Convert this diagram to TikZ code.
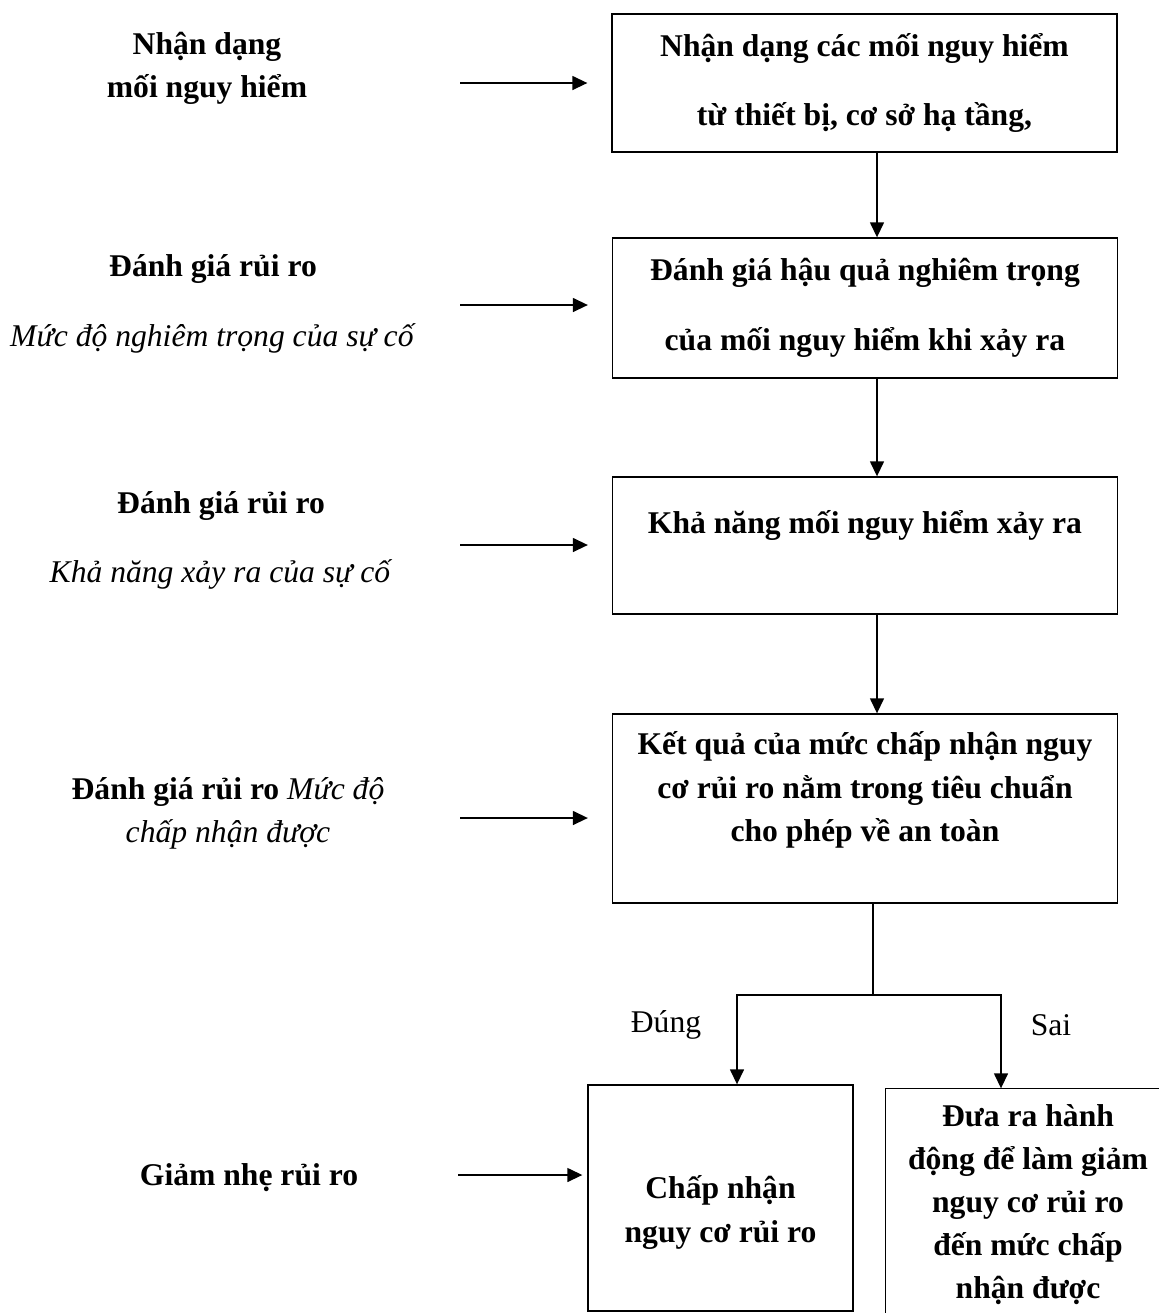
\documentclass[tikz,border=0pt]{standalone}
\usepackage{fontspec}
\setmainfont{Liberation Serif}
\usetikzlibrary{arrows.meta}
\tikzstyle{Box}=[draw,line width=0.8pt,inner sep=0pt,align=center,
font=\bfseries\fontsize{18}{24.5}\selectfont]
\tikzstyle{WideBox}=[Box,font=\bfseries\fontsize{18}{39.5}\selectfont]
\tikzstyle{Label}=[align=center,inner sep=0pt,font=\fontsize{18}{24.5}\selectfont]
\tikzstyle{BoldLabel}=[Label,font=\bfseries\fontsize{18}{24.5}\selectfont]
\tikzstyle{WideLabel}=[Label,font=\fontsize{18}{39.5}\selectfont]
\tikzstyle{Edge}=[line width=0.8pt]
\tikzstyle{Arrow}=[Edge,-{Triangle[length=0.3cm,width=0.28cm]}]

\begin{document}
\begin{tikzpicture}[x=0.02cm,y=-0.02cm]
        \useasboundingbox(0,0)rectangle(1159,1313);
        \clip(0,0)rectangle(1159,1313);
        % boxes
        \node[WideBox,minimum width=10.1cm,minimum height=2.76cm](box1)at(864.5,83){Nhận dạng các mối nguy hiểm\\từ thiết bị, cơ sở hạ tầng,};
        \node[WideBox,minimum width=10.1cm,minimum height=2.8cm](box2)at(865,308){Đánh giá hậu quả nghiêm trọng\\của mối nguy hiểm khi xảy ra};
        \node[Box,minimum width=10.1cm,minimum height=2.74cm,text depth=0.94cm](box3)at(865,545.5){Khả năng mối nguy hiểm xảy ra};
        \node[Box,minimum width=10.1cm,minimum height=3.78cm,text depth=0.88cm](box4)at(865,808.5){Kết quả của mức chấp nhận nguy\\cơ rủi ro nằm trong tiêu chuẩn\\cho phép về an toàn};
        \node[Box,minimum width=5.3cm,minimum height=4.52cm,text height=1.9cm,text depth=0.14cm](box5)at(720.5,1198){Chấp nhận\\nguy cơ rủi ro};
        % cut off by the right and bottom border
        \node[Box,draw=none,minimum width=5.68cm,minimum height=4.64cm](box6)at(1028,1205){Đưa ra hành\\động để làm giảm\\nguy cơ rủi ro\\đến mức chấp\\nhận được};
        \draw[Edge](box6.north east)--(box6.north west)--(box6.south west);
        % left column
        \node[BoldLabel](lab1)at(207,68.5){Nhận dạng\\mối nguy hiểm};
        \node[WideLabel](lab2)at(213,304){\textbf{Đánh giá rủi ro}\\\textit{Mức độ nghiêm trọng của sự cố}};
        \node[WideLabel](lab3)at(221,540.5){\textbf{Đánh giá rủi ro}\\\textit{Khả năng xảy ra của sự cố}};
        \node[Label](lab4)at(228,813){\textbf{Đánh giá rủi ro} \textit{Mức độ}\\\textit{chấp nhận được}};
        \node[BoldLabel](lab5)at(249,1178){Giảm nhẹ rủi ro};
        \coordinate(in1)at(460,83);
        \coordinate(in2)at(460,305);
        \coordinate(in3)at(460,545);
        \coordinate(in4)at(460,818);
        \coordinate(in5)at(458,1175);
        \draw[Arrow,shorten >=0.48cm](in1)--(in1-|box1.west);
        \draw[Arrow,shorten >=0.48cm](in2)--(in2-|box2.west);
        \draw[Arrow,shorten >=0.48cm](in3)--(in3-|box3.west);
        \draw[Arrow,shorten >=0.48cm](in4)--(in4-|box4.west);
        \draw[Arrow,shorten >=0.1cm](in5)--(in5-|box5.west);
        % main flow
        \coordinate(spine)at(877,0);
        \draw[Arrow](box1.south-|spine)--(box2.north-|spine);
        \draw[Arrow](box2.south-|spine)--(box3.north-|spine);
        \draw[Arrow](box3.south-|spine)--(box4.north-|spine);
        \coordinate(split)at(873,995);
        \coordinate(yes)at(737,995);
        \coordinate(no)at(1001,995);
        \draw[Edge](box4.south-|split)--(split);
        \draw[Arrow](split)-|(box5.north-|yes);
        \draw[Arrow](split)-|(box6.north-|no);
        \node[Label](yeslabel)at(666,1025){Đúng};
        \node[Label](nolabel)at(1051,1025){Sai};
    \end{tikzpicture}
\end{document}
